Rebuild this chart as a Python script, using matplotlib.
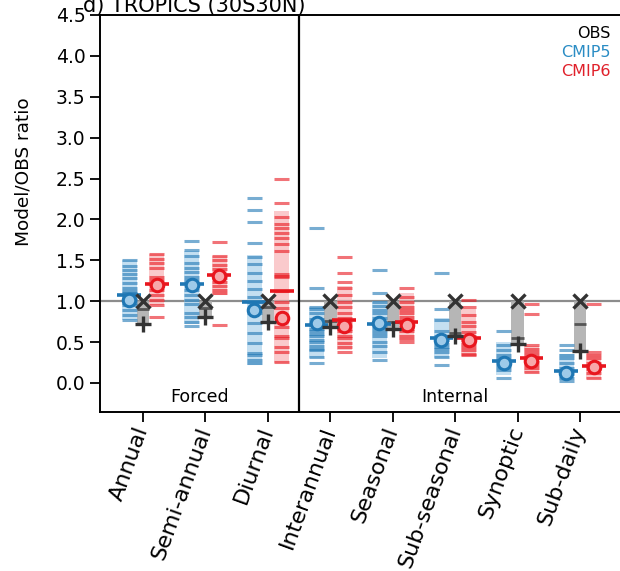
import matplotlib
matplotlib.use("Agg")
import matplotlib.pyplot as plt
import numpy as np

categories = ["Annual", "Semi-annual", "Diurnal", "Interannual", "Seasonal",
              "Sub-seasonal", "Synoptic", "Sub-daily"]

# CMIP5 individual model ratios
cmip5_models = [
    [1.50, 1.43, 1.38, 1.33, 1.28, 1.22, 1.16, 1.13, 1.10, 1.07, 1.04, 1.01, 0.98, 0.95, 0.89, 0.83, 0.77],
    [1.74, 1.63, 1.55, 1.47, 1.41, 1.36, 1.30, 1.26, 1.22, 1.14, 1.08, 1.02, 0.97, 0.85, 0.81, 0.75, 0.70],
    [2.26, 2.11, 1.97, 1.71, 1.54, 1.45, 1.35, 1.25, 1.15, 1.05, 0.99, 0.92, 0.85, 0.73, 0.61, 0.49, 0.37, 0.34, 0.28, 0.25],
    [1.89, 1.16, 0.93, 0.90, 0.85, 0.78, 0.75, 0.71, 0.66, 0.63, 0.60, 0.57, 0.53, 0.50, 0.45, 0.42, 0.40, 0.32, 0.24],
    [1.38, 1.10, 0.99, 0.94, 0.89, 0.85, 0.80, 0.75, 0.72, 0.68, 0.65, 0.61, 0.57, 0.50, 0.45, 0.38, 0.28],
    [1.34, 0.90, 0.77, 0.63, 0.58, 0.55, 0.52, 0.48, 0.44, 0.41, 0.38, 0.32, 0.22],
    [0.63, 0.46, 0.40, 0.34, 0.30, 0.27, 0.23, 0.20, 0.16, 0.06],
    [0.46, 0.40, 0.34, 0.30, 0.24, 0.18, 0.15, 0.11, 0.06, 0.02],
]
cmip5_mean = [1.01, 1.20, 0.89, 0.73, 0.73, 0.52, 0.24, 0.12]
cmip5_median = [1.07, 1.21, 0.99, 0.71, 0.72, 0.55, 0.27, 0.15]
cmip5_lo = [0.77, 0.72, 0.22, 0.30, 0.30, 0.30, 0.10, 0.04]
cmip5_hi = [1.50, 1.62, 1.56, 0.93, 1.00, 0.80, 0.50, 0.35]

# CMIP6 individual model ratios
cmip6_models = [
    [1.58, 1.52, 1.47, 1.41, 1.30, 1.26, 1.21, 1.14, 1.08, 1.02, 0.95, 0.81],
    [1.73, 1.55, 1.50, 1.44, 1.39, 1.32, 1.28, 1.24, 1.19, 1.14, 1.10, 0.71],
    [2.49, 2.20, 2.03, 1.95, 1.89, 1.83, 1.77, 1.70, 1.61, 1.33, 1.31, 1.29, 1.12, 0.99, 0.92, 0.69, 0.57, 0.55, 0.44, 0.38, 0.26],
    [1.54, 1.34, 1.24, 1.16, 1.08, 0.99, 0.93, 0.85, 0.80, 0.77, 0.73, 0.70, 0.66, 0.63, 0.58, 0.55, 0.49, 0.44, 0.38],
    [1.16, 1.05, 0.99, 0.93, 0.89, 0.85, 0.81, 0.77, 0.73, 0.69, 0.66, 0.63, 0.58, 0.54, 0.50],
    [1.01, 0.93, 0.83, 0.75, 0.70, 0.62, 0.58, 0.55, 0.52, 0.48, 0.44, 0.40, 0.36, 0.34],
    [0.97, 0.84, 0.46, 0.42, 0.38, 0.34, 0.30, 0.26, 0.22, 0.18, 0.14],
    [0.97, 0.38, 0.34, 0.30, 0.25, 0.21, 0.17, 0.12, 0.06],
]
cmip6_mean = [1.20, 1.31, 0.80, 0.70, 0.71, 0.52, 0.27, 0.19]
cmip6_median = [1.21, 1.32, 1.12, 0.77, 0.74, 0.55, 0.31, 0.21]
cmip6_lo = [0.95, 1.08, 0.25, 0.40, 0.52, 0.36, 0.12, 0.05]
cmip6_hi = [1.58, 1.55, 2.10, 1.18, 1.10, 0.90, 0.45, 0.36]

# Observations (reference = 1, alternative datasets)
obs_ref = [1.0, 1.0, 1.0, 1.0, 1.0, 1.0, 1.0, 1.0]
obs_plus = [0.72, 0.81, 0.75, 0.69, 0.66, 0.58, 0.48, 0.39]
obs_other = [0.90, 0.92, 0.93, 0.76, 0.74, 0.61, 0.55, 0.72]

BLUE = "#1f77b4"
BLUE_LIGHT = "#9ecae9"
RED = "#e8161e"
RED_LIGHT = "#f7a8aa"
GRAY = "#a9a9a9"
DARK = "#333333"

fig = plt.figure(figsize=(6.2, 5.71), dpi=100)
ax = fig.add_axes([100 / 620, 1 - 412 / 571, 525 / 620, (412 - 15) / 571])

x = np.arange(len(categories))
off = 0.22
hw = 0.12   # half width of dashes
mhw = 0.19  # half width of median dash
bhw = 0.10  # half width of obs box

ax.axhline(1.0, color="#8c8c8c", lw=1.6, zorder=1)
ax.axvline(2.5, color="black", lw=1.6, zorder=2)

for i in range(len(categories)):
    for sign, models, lo, hi, med, mean, col, light in (
        (-1, cmip5_models[i], cmip5_lo[i], cmip5_hi[i], cmip5_median[i], cmip5_mean[i], BLUE, BLUE_LIGHT),
        (1, cmip6_models[i], cmip6_lo[i], cmip6_hi[i], cmip6_median[i], cmip6_mean[i], RED, RED_LIGHT),
    ):
        xc = x[i] + sign * off
        ax.fill_between([xc - hw, xc + hw], lo, hi, color=light, alpha=0.6, lw=0, zorder=2)
        ax.hlines(models, xc - hw, xc + hw, colors=col, lw=2.2, alpha=0.6, zorder=3)
        ax.hlines(med, xc - mhw, xc + mhw, colors=col, lw=2.6, zorder=4)
        ax.plot(xc, mean, "o", ms=9, mfc=light, mec=col, mew=2.2, zorder=5)
    # observations
    ax.fill_between([x[i] - bhw, x[i] + bhw], obs_plus[i], obs_ref[i], color=GRAY, alpha=0.85, lw=0, zorder=2)
    ax.hlines(obs_other[i], x[i] - bhw, x[i] + bhw, colors="#555555", lw=2.0, zorder=3)
    ax.plot(x[i], obs_ref[i], "x", ms=10, mec=DARK, mew=2.4, zorder=6)
    ax.plot(x[i], obs_plus[i], "+", ms=11, mec=DARK, mew=2.4, zorder=6)

ax.set_xlim(-0.69, 7.72)
ax.set_ylim(-0.355, 4.5)
ax.set_yticks(np.arange(0, 4.51, 0.5))
ax.set_yticklabels([f"{v:.1f}" for v in np.arange(0, 4.51, 0.5)], fontsize=13.5)
ax.set_xticks(x)
ax.set_xticklabels(categories, rotation=70, fontsize=16, ha="right", va="center",
                   rotation_mode="anchor")
ax.tick_params(axis="both", length=7, width=1.3)
ax.tick_params(axis="x", pad=4)
ax.set_ylabel("Model/OBS ratio", fontsize=13.3)
ax.yaxis.set_label_coords(-0.128, 0.605)
for s in ax.spines.values():
    s.set_linewidth(1.4)

ax.text(0.9, -0.17, "Forced", ha="center", va="center", fontsize=12.5)
ax.text(5.0, -0.17, "Internal", ha="center", va="center", fontsize=12.5)

fig.text(611 / 620, 1 - 38 / 571, "OBS", color="black", ha="right", va="baseline", fontsize=11.5)
fig.text(611 / 620, 1 - 57 / 571, "CMIP5", color="#2a8cc4", ha="right", va="baseline", fontsize=11.5)
fig.text(611 / 620, 1 - 76 / 571, "CMIP6", color="#e0202a", ha="right", va="baseline", fontsize=11.5)

fig.text(83 / 620, 1 - 11.7 / 571, "d) TROPICS (30S30N)", ha="left", va="baseline", fontsize=15)

fig.savefig("out.png", dpi=100)
